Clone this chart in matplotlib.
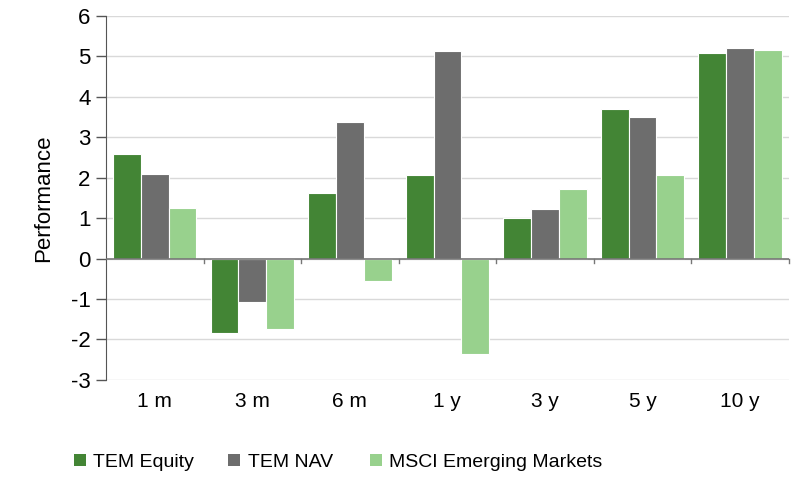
import numpy as np
import matplotlib.pyplot as plt
from matplotlib.patches import Patch

categories = ["1 m", "3 m", "6 m", "1 y", "3 y", "5 y", "10 y"]
tem_equity = [2.59, -1.83, 1.62, 2.07, 0.99, 3.69, 5.09]
tem_nav = [2.09, -1.08, 3.38, 5.14, 1.22, 3.50, 5.21]
msci_em = [1.26, -1.74, -0.55, -2.35, 1.72, 2.07, 5.15]

plt.rcParams["font.family"] = ["Liberation Sans", "DejaVu Sans"]
plt.rcParams["axes.unicode_minus"] = False

fig = plt.figure(figsize=(8, 4.84), dpi=100)
ax = fig.add_axes([0.1325, 0.215, 0.8535, 0.7525])

x = np.arange(len(categories))
w = 0.285
series = [(tem_equity, "#438535", "TEM Equity"),
          (tem_nav, "#6d6d6d", "TEM NAV"),
          (msci_em, "#98d18d", "MSCI Emerging Markets")]
for i, (vals, col, lab) in enumerate(series):
    ax.bar(x + (i - 1) * w, vals, w, color=col, edgecolor="white", linewidth=0.8, label=lab, zorder=3)

ax.set_xlim(-0.5, len(categories) - 0.5)
ax.set_ylim(-3, 6)
ax.set_yticks(range(-3, 7))
ax.yaxis.grid(True, color="#d9d9d9", linewidth=1, zorder=0)
ax.tick_params(axis="y", labelsize=16, length=7, color="#555555", width=1, pad=4)

for s in ["top", "right", "bottom"]:
    ax.spines[s].set_visible(False)
ax.spines["left"].set_color("#555555")
ax.axhline(0, color="#777777", linewidth=1.2, zorder=4)

# category tick marks at zero line, between groups
for b in np.arange(0.5, len(categories), 1.0):
    ax.plot([b, b], [0, -0.12], color="#777777", linewidth=1, zorder=4, clip_on=False)

ax.set_xticks(x)
ax.set_xticklabels(categories)
ax.tick_params(axis="x", length=0, labelsize=15, pad=9)

ax.set_ylabel("Performance", fontsize=16, labelpad=12)

# legend entries placed one by one to match spacing
legend_x = [0.085, 0.278, 0.455]
for (vals, col, lab), lx in zip(series, legend_x):
    fig.legend(handles=[Patch(facecolor=col, label=lab)], loc="lower left",
               bbox_to_anchor=(lx, 0.015), frameon=False, fontsize=14,
               handlelength=0.6, handleheight=0.6, handletextpad=0.4,
               borderaxespad=0, borderpad=0.3)

fig.savefig("out.png", dpi=100)
